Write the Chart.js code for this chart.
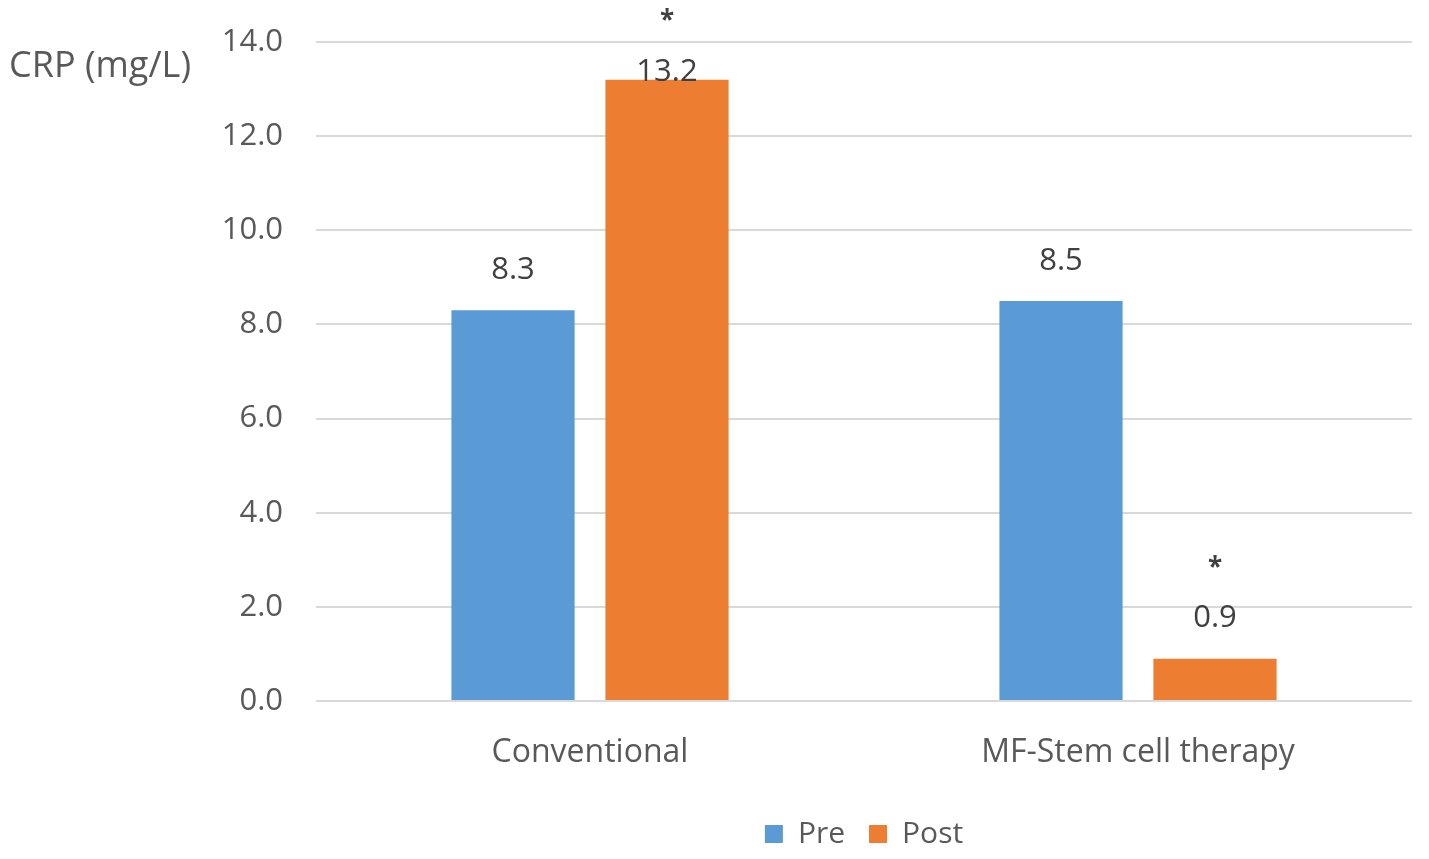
<!DOCTYPE html>
<html>
<head>
<meta charset="utf-8">
<script src="https://cdn.jsdelivr.net/npm/chart.js@4/dist/chart.umd.min.js"></script>
<style>
html,body{margin:0;padding:0;background:#fff;}
#c{display:block;}
</style>
</head>
<body>
<canvas id="c" width="1429" height="859"></canvas>
<script>
const categories = ['Conventional', 'MF-Stem cell therapy'];
const preValues = [8.3, 8.5];
const postValues = [13.2, 0.9];
const preMarks = ['', ''];
const postMarks = ['*', '*'];
const yTicks = [0, 2, 4, 6, 8, 10, 12, 14];
const yTitle = 'CRP (mg/L)';

const FONT = "'Open Sans', 'Noto Sans', sans-serif";
const TEXT = '#595959';

const labelPlugin = {
  id: 'valueLabels',
  afterDatasetsDraw(chart) {
    const ctx = chart.ctx;
    const marks = [preMarks, postMarks];
    const top = chart.chartArea.top;
    ctx.save();
    ctx.textAlign = 'center';
    ctx.textBaseline = 'middle';
    chart.data.datasets.forEach((ds, di) => {
      const meta = chart.getDatasetMeta(di);
      meta.data.forEach((bar, i) => {
        let y = Math.max(bar.y - 40, top + 30);
        ctx.fillStyle = '#404040';
        ctx.font = '31px ' + FONT;
        ctx.fillText(ds.data[i].toFixed(1), bar.x, y);
        const m = marks[di][i];
        if (m) {
          ctx.font = 'bold 26px ' + FONT;
          ctx.fillText(m, bar.x, y - 50);
        }
      });
    });
    ctx.textAlign = 'left';
    ctx.fillStyle = TEXT;
    ctx.font = '36px ' + FONT;
    ctx.fillText(yTitle, 9, 67);
    ctx.restore();
  }
};

new Chart(document.getElementById('c'), {
  type: 'bar',
  data: {
    labels: categories,
    datasets: [
      { label: 'Pre', data: preValues, backgroundColor: '#5B9BD5' },
      { label: 'Post', data: postValues, backgroundColor: '#ED7D31' }
    ]
  },
  options: {
    responsive: false,
    animation: false,
    layout: { padding: { top: 42, right: 17, bottom: 0, left: 0 } },
    datasets: { bar: { categoryPercentage: 0.562, barPercentage: 0.8 } },
    plugins: {
      legend: {
        position: 'bottom',
        fullSize: false,
        labels: {
          boxWidth: 18, boxHeight: 18, padding: 24,
          color: TEXT,
          font: { family: FONT, size: 30 }
        }
      },
      tooltip: { enabled: false }
    },
    scales: {
      x: {
        grid: { display: false, drawTicks: false },
        border: { display: false },
        ticks: { color: TEXT, padding: 33, font: { family: FONT, size: 32 } },
        afterFit(s) { s.height = 94; }
      },
      y: {
        min: 0, max: 14,
        afterBuildTicks(s) { s.ticks = yTicks.map(v => ({ value: v })); },
        grid: { color: '#D9D9D9', lineWidth: 2, drawTicks: false },
        border: { display: false },
        ticks: {
          color: TEXT, padding: 33,
          font: { family: FONT, size: 31 },
          callback: v => Number(v).toFixed(1)
        },
        afterFit(s) { s.width = 316; s.paddingTop = 0; s.paddingBottom = 0; }
      }
    }
  },
  plugins: [labelPlugin]
});
</script>
</body>
</html>
